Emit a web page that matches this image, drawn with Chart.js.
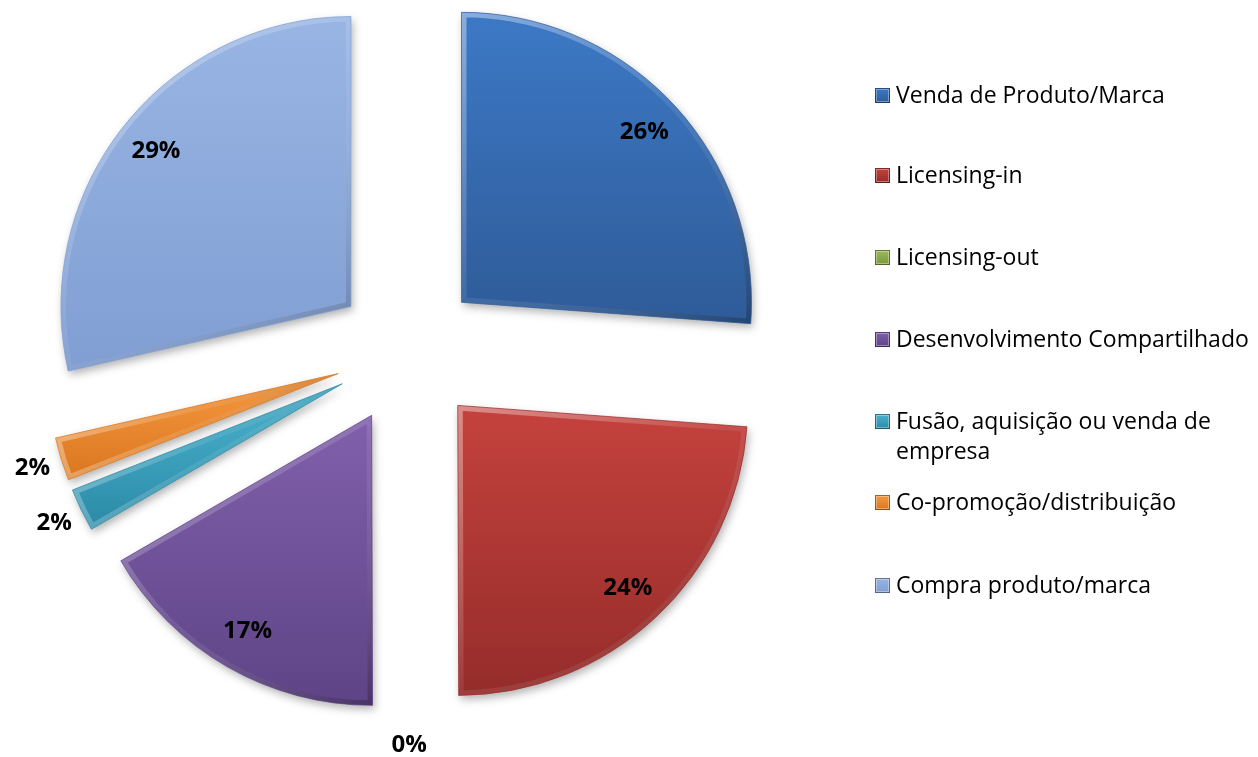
<!DOCTYPE html>
<html>
<head>
<meta charset="utf-8">
<script src="https://cdn.jsdelivr.net/npm/chart.js@4/dist/chart.umd.min.js"></script>
<style>
    body { margin: 0; background: #fff; }
    #wrap { width: 1258px; height: 757px; position: relative; }
</style>
</head>
<body>
<div id="wrap"><canvas id="pieChart"></canvas></div>
<script>
// categorias e percentagens
const labels = [
    'Venda de Produto/Marca',
    'Licensing-in',
    'Licensing-out',
    'Desenvolvimento Compartilhado',
    'Fusão, aquisição ou venda de empresa',
    'Co-promoção/distribuição',
    'Compra produto/marca'
];
const values = [26.2, 23.8, 0, 16.7, 2.4, 2.4, 28.6];

// linhas da legenda (o item "Fusão..." quebra em duas linhas)
const legendLines = [
    ['Venda de Produto/Marca'],
    ['Licensing-in'],
    ['Licensing-out'],
    ['Desenvolvimento Compartilhado'],
    ['Fusão, aquisição ou venda de', 'empresa'],
    ['Co-promoção/distribuição'],
    ['Compra produto/marca']
];

// tons claro / escuro de cada fatia (efeito bisel do Excel)
const lightColors = ['#3c79c6', '#c5423e', '#9bbb59', '#8060ab', '#4bb4d0', '#f7983f', '#98b5e4'];
const darkColors  = ['#2f5b98', '#952c2a', '#7a9a3a', '#5e4486', '#2b8aa6', '#d9771f', '#809ed2'];

const EXPLODE = 73;

function slicePath(ctx, cx, cy, r, a0, a1) {
    ctx.beginPath();
    ctx.moveTo(cx, cy);
    ctx.arc(cx, cy, r, a0, a1);
    ctx.closePath();
}

function drawSlice(ctx, cx, cy, r, a0, a1, light, dark) {
    const xs = [cx], ys = [cy];
    for (let k = 0; k <= 24; k++) {
        const a = a0 + (a1 - a0) * k / 24;
        xs.push(cx + Math.cos(a) * r);
        ys.push(cy + Math.sin(a) * r);
    }
    const left = Math.min(...xs), right = Math.max(...xs);
    const top = Math.min(...ys), bot = Math.max(...ys);

    const grad = ctx.createLinearGradient(0, top, 0, bot);
    grad.addColorStop(0, light);
    grad.addColorStop(1, dark);

    ctx.save();
    ctx.shadowColor = 'rgba(0,0,0,0.3)';
    ctx.shadowBlur = 8;
    ctx.shadowOffsetX = 2;
    ctx.shadowOffsetY = 4;
    slicePath(ctx, cx, cy, r, a0, a1);
    ctx.fillStyle = grad;
    ctx.fill();
    ctx.restore();

    // bisel interno
    ctx.save();
    slicePath(ctx, cx, cy, r, a0, a1);
    ctx.clip();
    const bevel = ctx.createLinearGradient(left, top, right, bot);
    bevel.addColorStop(0, 'rgba(255,255,255,0.4)');
    bevel.addColorStop(0.5, 'rgba(255,255,255,0.08)');
    bevel.addColorStop(1, 'rgba(0,0,0,0.25)');
    ctx.lineJoin = 'round';
    ctx.lineWidth = 10;
    ctx.strokeStyle = bevel;
    slicePath(ctx, cx, cy, r, a0, a1);
    ctx.stroke();
    ctx.restore();

    ctx.save();
    slicePath(ctx, cx, cy, r, a0, a1);
    ctx.lineWidth = 1;
    ctx.globalAlpha = 0.7;
    ctx.strokeStyle = dark;
    ctx.stroke();
    ctx.restore();
}

// desenha as fatias "explodidas" usando a geometria calculada pelo Chart.js
const explodePlugin = {
    id: 'explodePie',
    beforeDatasetDraw(chart, args) {
        const ctx = chart.ctx;
        args.meta.data.forEach((arc, i) => {
            const p = arc.getProps(['x', 'y', 'startAngle', 'endAngle', 'outerRadius'], true);
            if (p.endAngle - p.startAngle <= 0) return;
            const mid = (p.startAngle + p.endAngle) / 2;
            const cx = p.x + Math.cos(mid) * EXPLODE;
            const cy = p.y + Math.sin(mid) * EXPLODE;
            drawSlice(ctx, cx, cy, p.outerRadius, p.startAngle, p.endAngle, lightColors[i], darkColors[i]);
        });
        return false;
    }
};

const labelPlugin = {
    id: 'pctLabels',
    afterDatasetsDraw(chart) {
        const ctx = chart.ctx;
        const meta = chart.getDatasetMeta(0);
        const total = values.reduce((a, b) => a + b, 0);
        ctx.save();
        ctx.font = 'bold 24px "Open Sans", sans-serif';
        ctx.fillStyle = '#000';
        ctx.textAlign = 'center';
        ctx.textBaseline = 'middle';
        meta.data.forEach((arc, i) => {
            const p = arc.getProps(['x', 'y', 'startAngle', 'endAngle', 'outerRadius'], true);
            const mid = (p.startAngle + p.endAngle) / 2;
            const pct = values[i] / total * 100;
            const dist = EXPLODE + (pct < 5 ? p.outerRadius + 30 : p.outerRadius * 0.86);
            ctx.fillText(Math.round(pct) + '%', p.x + Math.cos(mid) * dist, p.y + Math.sin(mid) * dist);
        });
        ctx.restore();
    }
};

const legendPlugin = {
    id: 'sideLegend',
    afterDraw(chart) {
        const ctx = chart.ctx;
        const baselines = [103, 183, 265, 347, 429, 510, 593];
        ctx.save();
        ctx.font = '23px "Open Sans", sans-serif';
        ctx.textBaseline = 'alphabetic';
        ctx.textAlign = 'left';
        legendLines.forEach((lines, i) => {
            const base = baselines[i];
            const sy = base - 15;
            const g = ctx.createLinearGradient(0, sy, 0, sy + 15);
            g.addColorStop(0, lightColors[i]);
            g.addColorStop(1, darkColors[i]);
            ctx.fillStyle = g;
            ctx.fillRect(875, sy, 15, 15);
            ctx.strokeStyle = 'rgba(0,0,0,0.35)';
            ctx.lineWidth = 1;
            ctx.strokeRect(875.5, sy + 0.5, 14, 14);
            ctx.strokeStyle = 'rgba(255,255,255,0.35)';
            ctx.strokeRect(876.5, sy + 1.5, 12, 12);
            ctx.fillStyle = '#000';
            lines.forEach((t, k) => ctx.fillText(t, 896, base + k * 30));
        });
        ctx.restore();
    }
};

new Chart(document.getElementById('pieChart'), {
    type: 'pie',
    data: {
        labels: labels,
        datasets: [{
            data: values,
            backgroundColor: lightColors,
            borderWidth: 0
        }]
    },
    options: {
        responsive: true,
        maintainAspectRatio: false,
        animation: false,
        layout: { padding: { left: 118, top: 62, right: 560, bottom: 115 } },
        plugins: {
            legend: { display: false },
            tooltip: { enabled: false }
        }
    },
    plugins: [explodePlugin, labelPlugin, legendPlugin]
});
</script>
</body>
</html>
